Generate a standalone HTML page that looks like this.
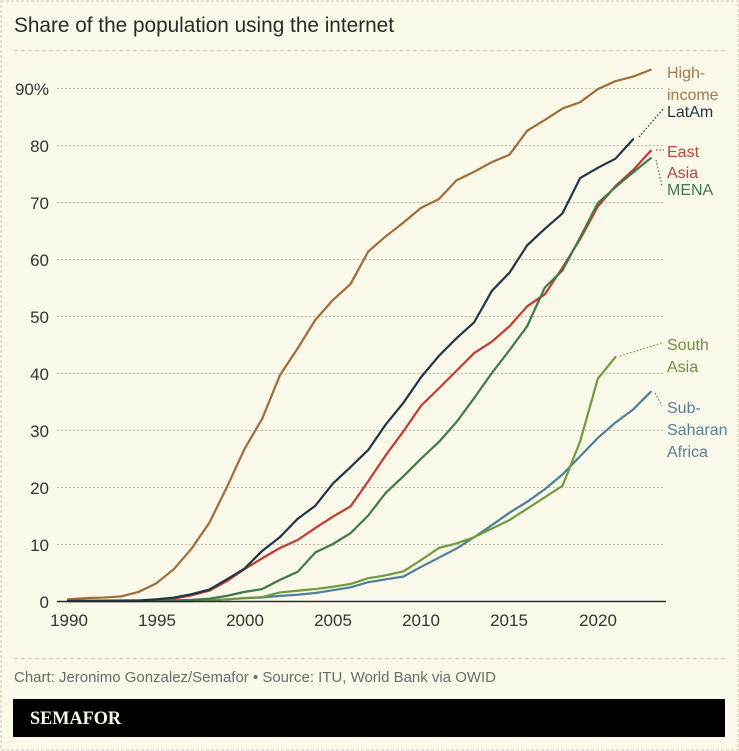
<!DOCTYPE html>
<html>
<head>
<meta charset="utf-8">
<style>
  html, body { margin: 0; padding: 0; background: #fbf9ea; }
  svg { display: block; }
  .sans { font-family: "Liberation Sans", sans-serif; }
</style>
</head>
<body>
<svg width="739" height="751" viewBox="0 0 739 751" xmlns="http://www.w3.org/2000/svg">
  <rect x="0" y="0" width="739" height="751" fill="#fbf9ea"/>
  <rect x="1" y="1" width="737" height="749" fill="none" stroke="#cfc9b2" stroke-width="1" stroke-dasharray="3,2"/>

  <!-- Title -->
  <text class="sans" x="14" y="32" font-size="21" fill="#2a2a2a" textLength="380" lengthAdjust="spacingAndGlyphs">Share of the population using the internet</text>
  <line x1="14" y1="50.5" x2="725" y2="50.5" stroke="#cfc9b2" stroke-width="1" stroke-dasharray="4,3"/>

  <!-- Gridlines -->
  <g stroke="#bdb8a6" stroke-width="1" stroke-dasharray="2,2">
    <line x1="57" y1="88.5" x2="665" y2="88.5"/>
    <line x1="57" y1="145.5" x2="665" y2="145.5"/>
    <line x1="57" y1="202.5" x2="665" y2="202.5"/>
    <line x1="57" y1="259.5" x2="665" y2="259.5"/>
    <line x1="57" y1="316.5" x2="665" y2="316.5"/>
    <line x1="57" y1="373.5" x2="665" y2="373.5"/>
    <line x1="57" y1="430.5" x2="665" y2="430.5"/>
    <line x1="57" y1="487.5" x2="665" y2="487.5"/>
    <line x1="57" y1="544.5" x2="665" y2="544.5"/>
  </g>

  <!-- Y labels -->
  <g class="sans" font-size="17" fill="#333" text-anchor="end">
    <text x="49" y="95">90%</text>
    <text x="49" y="152">80</text>
    <text x="49" y="209">70</text>
    <text x="49" y="266">60</text>
    <text x="49" y="323">50</text>
    <text x="49" y="380">40</text>
    <text x="49" y="437">30</text>
    <text x="49" y="494">20</text>
    <text x="49" y="551">10</text>
    <text x="49" y="608">0</text>
  </g>

  <!-- X labels -->
  <g class="sans" font-size="17" fill="#333" text-anchor="middle">
    <text x="69" y="626">1990</text>
    <text x="157" y="626">1995</text>
    <text x="245" y="626">2000</text>
    <text x="333" y="626">2005</text>
    <text x="421" y="626">2010</text>
    <text x="509" y="626">2015</text>
    <text x="598" y="626">2020</text>
  </g>

  <!-- Series -->
  <g transform="translate(68,601) scale(17.66,-5.7)" fill="none" stroke-width="2.2" stroke-linejoin="round" stroke-linecap="round">
    <polyline vector-effect="non-scaling-stroke" stroke="#a26c36" points="0,0.3 1,0.5 2,0.6 3,0.8 4,1.6 5,3.1 6,5.6 7,9.2 8,13.7 9,20 10,26.7 11,32 12,39.6 13,44.3 14,49.3 15,52.8 16,55.6 17,61.3 18,64 19,66.4 20,69 21,70.5 22,73.8 23,75.3 24,77 25,78.3 26,82.5 27,84.4 28,86.4 29,87.5 30,89.8 31,91.2 32,92 33,93.2"/>
    <polyline vector-effect="non-scaling-stroke" stroke="#4b7f9c" points="0,0 7,0 8,0.1 9,0.3 10,0.5 11,0.6 12,0.9 13,1.1 14,1.4 15,1.9 16,2.4 17,3.3 18,3.8 19,4.3 20,6 21,7.6 22,9.2 23,11.2 24,13.3 25,15.5 26,17.4 27,19.6 28,22.2 29,25.4 30,28.6 31,31.3 32,33.6 33,36.7"/>
    <polyline vector-effect="non-scaling-stroke" stroke="#6f9b3d" points="0,0 7,0 8,0.1 9,0.3 10,0.5 11,0.7 12,1.5 13,1.8 14,2.1 15,2.5 16,3 17,4 18,4.5 19,5.2 20,7.2 21,9.3 22,10.1 23,11.2 24,12.7 25,14.2 26,16.2 27,18.2 28,20.2 29,28 30,39 31,42.8"/>
    <polyline vector-effect="non-scaling-stroke" stroke="#c23b30" points="0,0 4,0 5,0.1 6,0.4 7,1 8,1.8 9,3.5 10,5.6 11,7.5 12,9.3 13,10.7 14,12.8 15,14.8 16,16.6 17,21 18,25.6 19,29.8 20,34.3 21,37.3 22,40.4 23,43.5 24,45.5 25,48.2 26,51.7 27,53.8 28,58.5 29,63.5 30,69.2 31,72.8 32,75.6 33,79"/>
    <polyline vector-effect="non-scaling-stroke" stroke="#3e7b47" points="0,0 5,0 6,0.1 7,0.2 8,0.4 9,0.9 10,1.6 11,2.1 12,3.7 13,5.1 14,8.5 15,10 16,11.9 17,15 18,19 19,21.9 20,25 21,27.9 22,31.4 23,35.6 24,40 25,44 26,48.2 27,55 28,58 29,63.8 30,69.8 31,72.6 32,75.2 33,77.7"/>
    <polyline vector-effect="non-scaling-stroke" stroke="#1d3647" points="0,0 4,0.1 5,0.3 6,0.6 7,1.2 8,2 9,3.8 10,5.7 11,8.8 12,11.2 13,14.4 14,16.7 15,20.6 16,23.5 17,26.5 18,31 19,34.8 20,39.3 21,43 22,46.1 23,48.9 24,54.4 25,57.6 26,62.4 27,65.3 28,68 29,74.2 30,76 31,77.6 32,81"/>
  </g>

  <!-- Zero axis -->
  <line x1="57" y1="601.5" x2="666" y2="601.5" stroke="#2a2a2a" stroke-width="1.6"/>

  <!-- Connectors -->
  <g fill="none" stroke-width="1.2" stroke-dasharray="1.5,2">
    <line x1="639" y1="137" x2="663" y2="109" stroke="#1d3647"/>
    <line x1="656" y1="150" x2="664" y2="150" stroke="#c23b30"/>
    <line x1="656" y1="160" x2="662" y2="186" stroke="#3e7b47"/>
    <line x1="620" y1="356" x2="662" y2="343" stroke="#6f9b3d"/>
    <line x1="655" y1="393" x2="662" y2="406" stroke="#4b7f9c"/>
  </g>

  <!-- Series labels -->
  <g class="sans" font-size="16">
    <text x="667" y="78" fill="#a57a4c">High-</text>
    <text x="667" y="100" fill="#a57a4c">income</text>
    <text x="667" y="117" fill="#1f3646">LatAm</text>
    <text x="667" y="157" fill="#b5473f">East</text>
    <text x="667" y="178" fill="#b5473f">Asia</text>
    <text x="667" y="195" fill="#3f7a50">MENA</text>
    <text x="667" y="350" fill="#6f8f3f">South</text>
    <text x="667" y="372" fill="#6f8f3f">Asia</text>
    <text x="667" y="413" fill="#587f97">Sub-</text>
    <text x="667" y="435" fill="#587f97">Saharan</text>
    <text x="667" y="457" fill="#587f97">Africa</text>
  </g>

  <!-- Footer -->
  <line x1="14" y1="658.5" x2="725" y2="658.5" stroke="#cfc9b2" stroke-width="1" stroke-dasharray="4,3"/>
  <text class="sans" x="14" y="682" font-size="15" fill="#6b6b6b" textLength="482" lengthAdjust="spacingAndGlyphs">Chart: Jeronimo Gonzalez/Semafor • Source: ITU, World Bank via OWID</text>
  <rect x="13" y="699" width="712" height="38" fill="#000"/>
  <text x="30" y="724" style="font-family: 'Liberation Serif', serif; font-weight: bold;" font-size="19" fill="#fbf9ea" textLength="91" lengthAdjust="spacingAndGlyphs">SEMAFOR</text>
</svg>
</body>
</html>
